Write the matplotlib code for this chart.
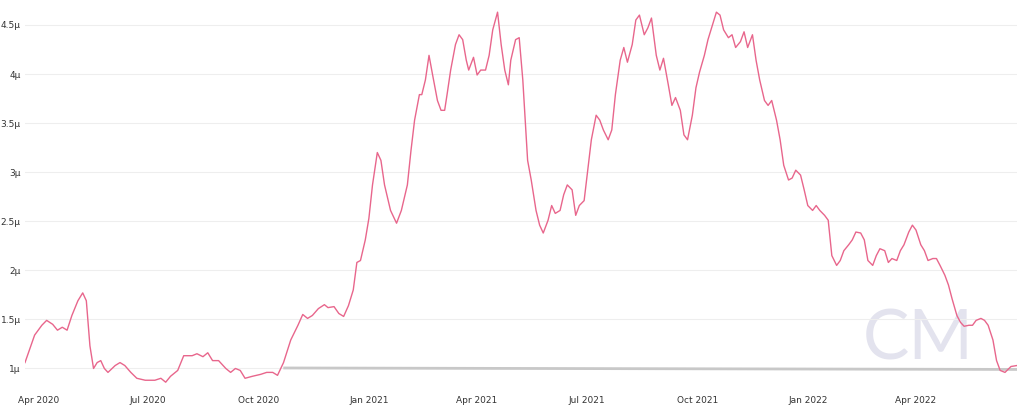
import matplotlib
matplotlib.use("Agg")
import matplotlib.pyplot as plt
import matplotlib.dates as mdates
import numpy as np
import pandas as pd

# days since 2020-03-21 and values in micro units
days = [0, 8, 14, 18, 23, 27, 31, 35, 39, 44, 48, 51, 54, 57, 60, 63, 66, 69, 75, 79,
        83, 88, 93, 100, 108, 113, 117, 121, 127, 132, 135, 139, 143, 148, 152, 156, 161, 167, 171, 175,
        179, 183, 189, 196, 201, 206, 210, 215, 221, 227, 231, 235, 239, 244, 249, 252, 257, 261, 265, 269,
        273, 276, 279, 283, 286, 289, 293, 296, 299, 304, 309, 313, 318, 321, 324, 328, 330, 333, 336, 339,
        343, 346, 349, 351, 354, 358, 361, 364, 367, 369, 373, 376, 379, 383, 386, 389, 393, 396, 399, 402,
        404, 408, 411, 414, 418, 421, 425, 428, 431, 435, 438, 441, 445, 448, 451, 455, 458, 461, 465, 468,
        471, 475, 478, 481, 485, 488, 491, 495, 498, 501, 505, 508, 511, 515, 518, 521, 525, 528, 531, 535,
        538, 541, 545, 548, 551, 555, 558, 561, 565, 568, 571, 575, 578, 581, 585, 588, 591, 595, 598, 601,
        605, 608, 611, 615, 618, 621, 625, 628, 631, 635, 638, 641, 645, 648, 651, 655, 658, 661, 665, 668,
        671, 675, 678, 681, 685, 688, 691, 695, 698, 701, 705, 708, 711, 715, 718, 721, 725, 728, 731, 735,
        738, 741, 745, 748, 751, 755, 758, 761, 765, 768, 771, 775, 778, 781, 785, 788, 791, 795, 798, 801,
        805, 808, 811, 815, 820, 825]
values = [1.06, 1.34, 1.44, 1.49, 1.45, 1.39, 1.42, 1.39, 1.54, 1.69, 1.77, 1.69, 1.23, 1.00, 1.06, 1.08, 1.00, 0.96, 1.03, 1.06,
          1.03, 0.96, 0.90, 0.88, 0.88, 0.90, 0.86, 0.92, 0.98, 1.13, 1.13, 1.13, 1.15, 1.12, 1.16, 1.08, 1.08, 1.00, 0.96, 1.00,
          0.98, 0.90, 0.92, 0.94, 0.96, 0.96, 0.93, 1.06, 1.29, 1.44, 1.55, 1.51, 1.54, 1.61, 1.65, 1.62, 1.63, 1.56, 1.53, 1.64,
          1.80, 2.08, 2.10, 2.31, 2.53, 2.87, 3.20, 3.12, 2.87, 2.61, 2.48, 2.61, 2.87, 3.22, 3.53, 3.79, 3.79, 3.94, 4.19, 3.99,
          3.73, 3.63, 3.63, 3.79, 4.04, 4.30, 4.40, 4.35, 4.14, 4.04, 4.17, 3.99, 4.04, 4.04, 4.19, 4.45, 4.63, 4.30, 4.04, 3.89,
          4.14, 4.35, 4.37, 3.94, 3.12, 2.92, 2.61, 2.46, 2.38, 2.51, 2.66, 2.58, 2.61, 2.77, 2.87, 2.82, 2.56, 2.66, 2.71, 3.02,
          3.33, 3.58, 3.53, 3.43, 3.33, 3.43, 3.79, 4.14, 4.27, 4.12, 4.30, 4.55, 4.60, 4.40, 4.47, 4.57, 4.19, 4.04, 4.16, 3.89,
          3.68, 3.76, 3.63, 3.38, 3.33, 3.58, 3.86, 4.02, 4.19, 4.35, 4.47, 4.63, 4.60, 4.45, 4.37, 4.40, 4.27, 4.33, 4.43, 4.27,
          4.40, 4.14, 3.94, 3.73, 3.68, 3.73, 3.53, 3.33, 3.07, 2.92, 2.94, 3.02, 2.97, 2.82, 2.66, 2.61, 2.66, 2.61, 2.56, 2.51,
          2.15, 2.05, 2.10, 2.20, 2.26, 2.31, 2.39, 2.38, 2.31, 2.10, 2.05, 2.15, 2.22, 2.20, 2.08, 2.12, 2.10, 2.20, 2.26, 2.39,
          2.46, 2.41, 2.26, 2.20, 2.10, 2.12, 2.12, 2.05, 1.95, 1.85, 1.71, 1.54, 1.47, 1.43, 1.44, 1.44, 1.49, 1.51, 1.49, 1.44,
          1.29, 1.08, 0.98, 0.96, 1.02, 1.03]
ref_days = [216, 825]
ref_values = [1.005, 0.99]
y_ticks = [1, 1.5, 2, 2.5, 3, 3.5, 4, 4.5]

start = pd.Timestamp("2020-03-21")
dates = start + pd.to_timedelta(days, unit="D")
ref_dates = start + pd.to_timedelta(ref_days, unit="D")

fig = plt.figure(figsize=(10.24, 4.08), dpi=100)
ax = fig.add_axes([25 / 1024, 0.056, 992 / 1024, 0.919])
ax.plot(ref_dates, ref_values, color="#c8c8c8", lw=2)
ax.plot(dates, values, color="#e8668c", lw=1)

ax.set_xlim(dates[0], dates[-1])
ax.set_ylim(0.83, 4.65)
ax.set_yticks(y_ticks)
ax.set_yticklabels([f"{t:g}µ" for t in y_ticks])
ax.xaxis.set_major_locator(mdates.MonthLocator(bymonth=[1, 4, 7, 10]))
ax.xaxis.set_major_formatter(mdates.DateFormatter("%b %Y"))
ax.tick_params(axis="both", length=0, labelsize=6.5, colors="#333333")
ax.tick_params(axis="y", pad=3)
ax.tick_params(axis="x", pad=8)
ax.grid(axis="y", color="#eeeeee", lw=0.8)
for s in ax.spines.values():
    s.set_visible(False)

# watermark
ax.text(0.9, 0.12, "CM", transform=ax.transAxes, fontsize=50, color="#e3e3ee",
        ha="center", va="center", family="Lato", fontweight="normal", zorder=0)

fig.savefig("out.png", dpi=100)
